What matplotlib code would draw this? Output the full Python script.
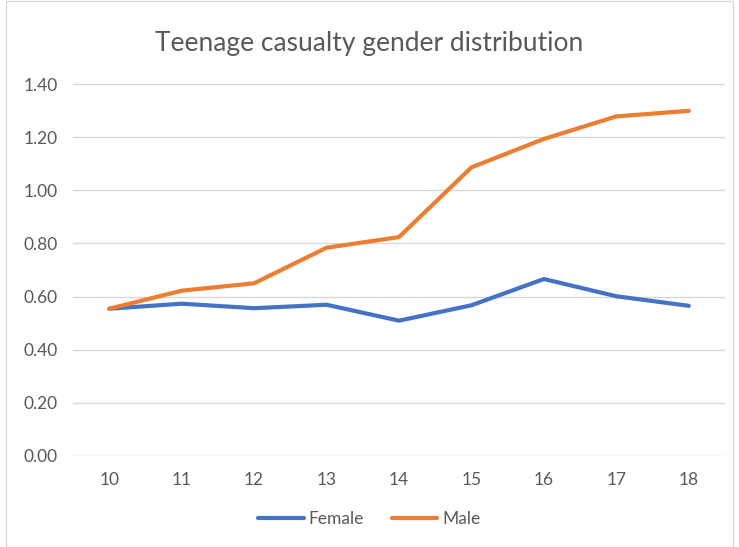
import matplotlib
matplotlib.use("Agg")
import matplotlib.pyplot as plt
from matplotlib.patches import Rectangle

ages = [10, 11, 12, 13, 14, 15, 16, 17, 18]
female = [0.554, 0.573, 0.556, 0.569, 0.509, 0.567, 0.666, 0.601, 0.565]
male = [0.554, 0.622, 0.650, 0.784, 0.824, 1.087, 1.194, 1.279, 1.300]

plt.rcParams['font.family'] = ['Lato', 'DejaVu Sans']

fig = plt.figure(figsize=(7.39, 5.47), dpi=100)
ax = fig.add_axes([73 / 739, 1 - 455.7 / 547, (725 - 73) / 739, (455.7 - 84.3) / 547])

ax.plot(ages, female, color='#4472C4', lw=3, solid_capstyle='round', label='Female')
ax.plot(ages, male, color='#ED7D31', lw=3, solid_capstyle='round', label='Male')

ax.set_xlim(9.5, 18.5)
ax.set_ylim(0, 1.4)
ax.set_xticks(ages)
ax.set_yticks([0, 0.2, 0.4, 0.6, 0.8, 1.0, 1.2, 1.4])
ax.set_yticklabels(["%.2f" % v for v in ax.get_yticks()])
ax.tick_params(length=0, labelsize=12.5, colors='#595959', pad=11)
ax.tick_params(axis='x', pad=12)
ax.grid(axis='y', color='#D9D9D9', lw=1)
ax.set_axisbelow(True)
for s in ax.spines.values():
    s.set_visible(False)

fig.text(0.5, 1 - 44 / 547, "Teenage casualty gender distribution", ha='center', va='center',
         fontsize=19, color='#595959')

fig.legend(loc='center', bbox_to_anchor=(0.5, 1 - 519 / 547), ncol=2, frameon=False,
           fontsize=12.5, handlelength=2.6, columnspacing=1.6, handletextpad=0.3,
           labelcolor='#595959')

fig.patches.append(Rectangle((6 / 739, 0.0), 1 - 12 / 739, 1 - 1 / 547, transform=fig.transFigure,
                             fill=False, edgecolor='#D9D9D9', lw=1))

fig.savefig("out.png", dpi=100)
